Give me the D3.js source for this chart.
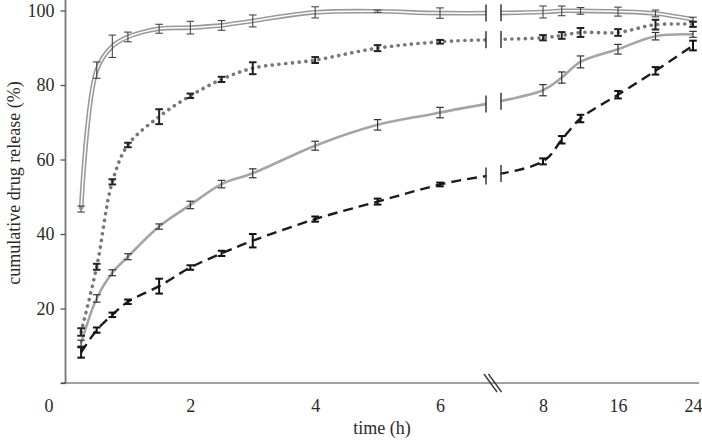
<!DOCTYPE html>
<html>
<head>
<meta charset="utf-8">
<script src="https://cdn.jsdelivr.net/npm/d3@7"></script>
<style>
  body { margin: 0; background: #fff; }
  svg { display: block; }
</style>
</head>
<body>
<svg width="702" height="440"></svg>
<script>
// sampling times (h)
var times = [0.25, 0.5, 0.75, 1, 1.5, 2, 2.5, 3, 4, 5, 6, 8, 10, 12, 16, 20, 24];

// cumulative release (%) and error for the four formulations
var releaseA = [46.7, 84.0, 90.4, 92.9, 95.1, 95.4, 96.0, 97.2, 99.5, 99.8, 99.3, 99.6, 99.9, 99.9, 99.7, 99.2, 97.6];
var errorA   = [0.8, 2.2, 3.0, 1.3, 1.2, 1.7, 1.3, 1.6, 1.5, 0.3, 1.4, 1.6, 1.3, 0.9, 1.2, 0.9, 0.6];

var releaseB = [13.7, 31.2, 54.0, 63.9, 71.5, 77.1, 81.5, 84.5, 86.7, 89.9, 91.6, 92.7, 93.3, 94.1, 94.1, 96.2, 96.3];
var errorB   = [1.0, 0.8, 0.7, 0.6, 2.0, 0.6, 0.7, 1.6, 0.8, 0.8, 0.5, 0.7, 0.9, 1.2, 0.9, 1.3, 0.7];

var releaseC = [10.7, 22.7, 29.6, 33.9, 42.0, 47.8, 53.4, 56.3, 63.7, 69.3, 72.6, 78.6, 82.0, 86.2, 89.6, 93.1, 93.6];
var errorC   = [0.8, 1.0, 0.8, 0.8, 0.7, 1.0, 1.0, 1.2, 1.2, 1.4, 1.4, 1.5, 1.5, 1.6, 1.3, 1.0, 0.8];

var releaseD = [8.2, 14.2, 18.3, 21.8, 26.0, 31.0, 34.8, 38.2, 44.0, 48.7, 53.3, 59.5, 65.3, 71.0, 77.4, 83.8, 90.6];
var errorD   = [1.4, 0.7, 0.6, 0.6, 2.0, 0.6, 0.7, 1.8, 0.7, 0.8, 0.5, 0.8, 1.0, 1.0, 1.0, 1.0, 1.3];

var xTicks = [2, 4, 6, 8, 16, 24];
var yTicks = [0, 20, 40, 60, 80, 100];

var svg = d3.select("svg");
var font = "'Liberation Serif', 'Times New Roman', serif";
var fontSize = 18;

// broken time axis: 0-6 h stretched, 8-24 h compressed
var x = d3.scaleLinear().domain([0, 6, 8, 24]).range([65.5, 440, 543, 693]);
var y = d3.scaleLinear().domain([0, 100]).range([383, 10.5]);

var breakLeft = 486, breakRight = 501;

// y axis
svg.append("line")
    .attr("x1", 65.5).attr("x2", 65.5)
    .attr("y1", 0).attr("y2", y(0))
    .attr("stroke", "#777").attr("stroke-width", 1.8);

var yAxis = svg.append("g")
    .attr("transform", "translate(65.5,0)")
    .call(d3.axisLeft(y).tickValues(yTicks).tickSize(5).tickPadding(6)
        .tickFormat(d => d === 0 ? "" : d));
yAxis.select(".domain").remove();
yAxis.selectAll("line").attr("stroke", "#555").attr("stroke-width", 1.3);
yAxis.attr("font-family", font).attr("font-size", fontSize);
yAxis.selectAll("text").attr("fill", "#2a2a2a");

// x axis
svg.append("line")
    .attr("x1", 61).attr("x2", 699)
    .attr("y1", y(0)).attr("y2", y(0))
    .attr("stroke", "#444").attr("stroke-width", 1.2);

var xAxis = svg.append("g")
    .attr("transform", "translate(0," + y(0) + ")")
    .call(d3.axisBottom(x).tickValues(xTicks).tickSize(0).tickPadding(16));
xAxis.select(".domain").remove();
xAxis.attr("font-family", font).attr("font-size", fontSize);
xAxis.selectAll("text").attr("fill", "#2a2a2a");

// shared origin label
svg.append("text")
    .attr("x", 49).attr("y", 412)
    .attr("text-anchor", "middle")
    .attr("font-family", font).attr("font-size", fontSize)
    .attr("fill", "#2a2a2a")
    .text("0");

// axis break marks
[0, 4.5].forEach(function(off) {
    svg.append("line")
        .attr("x1", 484 + off).attr("y1", 374)
        .attr("x2", 497 + off).attr("y2", 392)
        .attr("stroke", "#333").attr("stroke-width", 1.3);
});

// axis labels
svg.append("text")
    .attr("x", 382).attr("y", 434)
    .attr("text-anchor", "middle")
    .attr("font-family", font).attr("font-size", fontSize)
    .attr("fill", "#2a2a2a")
    .text("time (h)");

svg.append("text")
    .attr("transform", "translate(20,183) rotate(-90)")
    .attr("text-anchor", "middle")
    .attr("font-family", font).attr("font-size", fontSize)
    .attr("fill", "#2a2a2a")
    .text("cumulative drug release (%)");

var line = d3.line()
    .x(d => x(d[0]))
    .y(d => y(d[1]))
    .curve(d3.curveCatmullRom.alpha(0.5));

function pts(vals) { return times.map((t, i) => [t, vals[i]]); }

var lines = svg.append("g");

// double gray line
var pathA = lines.append("path").datum(pts(releaseA)).attr("d", line)
    .attr("fill", "none").attr("stroke", "#999").attr("stroke-width", 4.6);
lines.append("path").datum(pts(releaseA)).attr("d", line)
    .attr("fill", "none").attr("stroke", "#fff").attr("stroke-width", 1.5);

// dotted gray line
var pathB = lines.append("path").datum(pts(releaseB)).attr("d", line)
    .attr("fill", "none").attr("stroke", "#777").attr("stroke-width", 3.6)
    .attr("stroke-linecap", "round").attr("stroke-dasharray", "0.1 6.6");

// solid light gray line
var pathC = lines.append("path").datum(pts(releaseC)).attr("d", line)
    .attr("fill", "none").attr("stroke", "#a5a5a5").attr("stroke-width", 2.6);

// black dashed line
var pathD = lines.append("path").datum(pts(releaseD)).attr("d", line)
    .attr("fill", "none").attr("stroke", "#1c1c1c").attr("stroke-width", 2.4)
    .attr("stroke-dasharray", "10 6");

// gap in the lines at the axis break
svg.append("rect")
    .attr("x", breakLeft + 1).attr("y", 0)
    .attr("width", breakRight - breakLeft - 2).attr("height", 372)
    .attr("fill", "#fff");

// find y on a drawn path for a given x
function yOnPath(node, px) {
    var lo = 0, hi = node.getTotalLength();
    for (var k = 0; k < 40; k++) {
        var mid = (lo + hi) / 2;
        if (node.getPointAtLength(mid).x < px) lo = mid; else hi = mid;
    }
    return node.getPointAtLength(lo).y;
}

[pathA, pathB, pathC, pathD].forEach(function(p) {
    [breakLeft, breakRight].forEach(function(bx) {
        var by = yOnPath(p.node(), bx);
        svg.append("line")
            .attr("x1", bx).attr("x2", bx)
            .attr("y1", by - 8.5).attr("y2", by + 8.5)
            .attr("stroke", "#444").attr("stroke-width", 1.6);
    });
});

// error bars
function errorBars(vals, errs, color, width) {
    var g = svg.append("g").attr("stroke", color).attr("stroke-width", width);
    times.forEach(function(t, i) {
        var cx = x(t), top = y(vals[i] + errs[i]), bot = y(vals[i] - errs[i]);
        g.append("line").attr("x1", cx).attr("x2", cx).attr("y1", top).attr("y2", bot);
        g.append("line").attr("x1", cx - 3.8).attr("x2", cx + 3.8).attr("y1", top).attr("y2", top);
        g.append("line").attr("x1", cx - 3.8).attr("x2", cx + 3.8).attr("y1", bot).attr("y2", bot);
    });
}

errorBars(releaseA, errorA, "#444", 1.1);
errorBars(releaseC, errorC, "#333", 1.2);
errorBars(releaseB, errorB, "#222", 2);
errorBars(releaseD, errorD, "#111", 2);
</script>
</body>
</html>
